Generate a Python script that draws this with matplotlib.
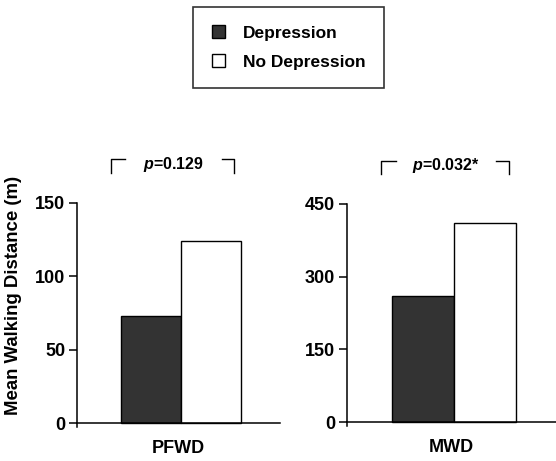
import matplotlib
matplotlib.use('Agg')
import matplotlib.pyplot as plt
from matplotlib.patches import Patch

plt.rcParams['font.family'] = 'Liberation Sans'
plt.rcParams['font.weight'] = 'bold'
plt.rcParams['mathtext.fontset'] = 'custom'
plt.rcParams['mathtext.it'] = 'Liberation Sans:italic:bold'
plt.rcParams['mathtext.rm'] = 'Liberation Sans:bold'

# data
groups = ['Depression', 'No Depression']
measures = ['PFWD', 'MWD']
depression = [73, 259]
no_depression = [124, 410]
pvalues = ['$\\it{p}$=0.129', '$\\it{p}$=0.032*']
yticks = [[0, 50, 100, 150], [0, 150, 300, 450]]

dark = '#333333'

fig = plt.figure(figsize=(5.56, 4.61), dpi=100)
ax1 = fig.add_axes([0.1385, 0.074, 0.3651, 0.486])
ax2 = fig.add_axes([0.624, 0.076, 0.376, 0.482])

center = 0.511
w = 0.296
for i, ax in enumerate([ax1, ax2]):
    top = yticks[i][-1]
    ax.bar([center - w / 2], [depression[i]], width=w, color=dark,
           edgecolor='black', linewidth=1)
    ax.bar([center + w / 2], [no_depression[i]], width=w, color='white',
           edgecolor='black', linewidth=1)
    ax.set_xlim(0, 1)
    ax.set_ylim(-top * 0.017, top)
    ax.spines['bottom'].set_position(('data', 0))
    ax.spines['top'].set_visible(False)
    ax.spines['right'].set_visible(False)
    for s in ['left', 'bottom']:
        ax.spines[s].set_linewidth(1.1)
    ax.set_yticks(yticks[i])
    ax.set_xticks([])
    ax.tick_params(axis='y', direction='out', length=5.5, width=1.1,
                   labelsize=13, pad=3)
    ax.set_xlabel(measures[i], fontsize=13, fontweight='bold', labelpad=12)

    # p-value bracket
    yt = top * 1.198
    yb = top * 1.135
    ax.plot([0.165, 0.165, 0.236], [yb, yt, yt], color='black', lw=1,
            clip_on=False)
    ax.plot([0.712, 0.775, 0.775], [yt, yt, yb], color='black', lw=1,
            clip_on=False)
    ax.text(0.475, top * 1.175, pvalues[i], ha='center', va='center',
            fontsize=11.5, clip_on=False)

ax1.set_ylabel('Mean Walking Distance (m)', fontsize=13.4, fontweight='bold')
ax1.yaxis.set_label_coords(-0.272, 0.586)

handles = [Patch(facecolor=dark, edgecolor='black', linewidth=1),
           Patch(facecolor='white', edgecolor='black', linewidth=1)]
leg = fig.legend(handles, groups, loc='upper left',
                 bbox_to_anchor=(0.347, 0.985), frameon=True, fancybox=False,
                 edgecolor='black', fontsize=12.5, handlelength=0.75,
                 handleheight=0.75, handletextpad=1.07, labelspacing=0.78,
                 borderpad=1.07, borderaxespad=0)
leg.get_frame().set_linewidth(1.2)
for t in leg.get_texts():
    t.set_fontweight('bold')

fig.savefig('out.png', dpi=100)
